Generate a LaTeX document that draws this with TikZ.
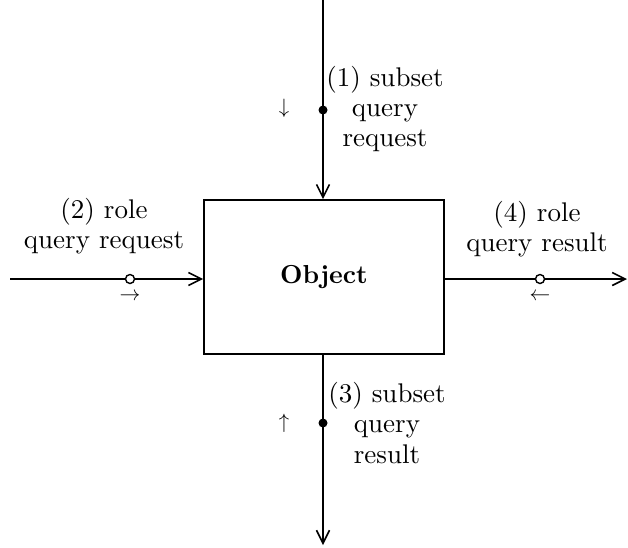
\documentclass[tikz,border=0pt]{standalone}
\usetikzlibrary{arrows.meta}
\begin{document}
\begin{tikzpicture}[x=1pt,y=-1pt,
  lbl/.style={align=center,font=\fontsize{10}{11.2}\selectfont,inner sep=0pt,scale=2.7,transform shape},
  flow/.style={line width=1.6pt,-{Straight Barb[length=13pt,width=13pt,line width=1.6pt]}},
  sync/.style={circle,fill=black,minimum size=9pt,inner sep=0pt},
  async/.style={circle,draw=black,fill=white,line width=1.4pt,minimum size=9pt,inner sep=0pt},
  dirmark/.style={font=\fontsize{20}{20}\selectfont,inner sep=0pt}]
\useasboundingbox (0,0) rectangle (628,547);

% central object
\node[draw,line width=1.6pt,minimum width=240pt,minimum height=154pt,inner sep=0pt] (obj) at (324,277) {};
\node[font=\fontsize{10}{12}\selectfont\bfseries,scale=2.6,transform shape,inner sep=0pt] (objname) at (obj.center) {Object};

% free ends of the four flows
\coordinate (topend) at (323,0);
\coordinate (botend) at (323,545);
\coordinate (leftend) at (10,279);
\coordinate (rightend) at (627,279);

% (1) incoming subset query request
\draw[flow] (topend) -- (topend |- obj.north);
\node[sync] (d1) at (323,110) {};
\node[dirmark] (m1) at (284,108) {$\downarrow$};
\node[lbl] (l1) at (385,109) {(1) subset\\query\\request};

% (2) incoming role query request
\draw[flow] (leftend) -- (leftend -| obj.west);
\node[async] (c2) at (130,279) {};
\node[dirmark] (m2) at (130,297) {$\rightarrow$};
\node[lbl] (l2) at (104,226) {(2) role\\query request};

% (3) outgoing subset query result
\draw[flow] (topend |- obj.south) -- (botend);
\node[sync] (d3) at (323,423) {};
\node[dirmark] (m3) at (284,423) {$\uparrow$};
\node[lbl] (l3) at (387,423) {(3) subset\\query\\result};

% (4) outgoing role query result
\draw[flow] (rightend -| obj.east) -- (rightend);
\node[async] (c4) at (540,279) {};
\node[dirmark] (m4) at (540,297) {$\leftarrow$};
\node[lbl] (l4) at (537,229) {(4) role\\query result};
\end{tikzpicture}
\end{document}
